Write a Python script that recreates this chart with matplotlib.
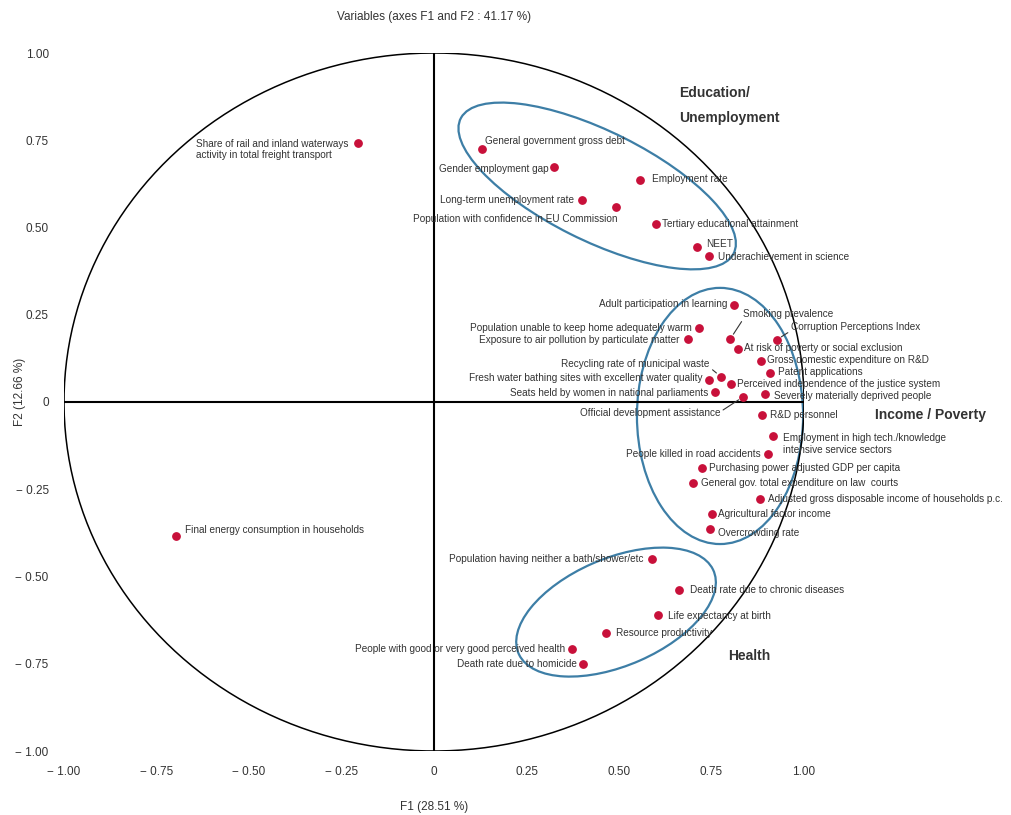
import numpy as np
from matplotlib import pyplot as plt
from matplotlib import font_manager
from matplotlib.patches import Ellipse

# variable names and their coordinates on the first two factors
variables = [
    'Share of rail and inland waterways\nactivity in total freight transport',
    'Final energy consumption in households',
    'General government gross debt',
    'Gender employment gap',
    'Employment rate',
    'Long-term unemployment rate',
    'Population with confidence in EU Commission',
    'Tertiary educational attainment',
    'NEET',
    'Underachievement in science',
    'Adult participation in learning',
    'Population unable to keep home adequately warm',
    'Exposure to air pollution by particulate matter',
    'Smoking prevalence',
    'Corruption Perceptions Index',
    'At risk of poverty or social exclusion',
    'Gross domestic expenditure on R&D',
    'Patent applications',
    'Recycling rate of municipal waste',
    'Fresh water bathing sites with excellent water quality',
    'Perceived independence of the justice system',
    'Seats held by women in national parliaments',
    'Severely materially deprived people',
    'Official development assistance',
    'R&D personnel',
    'Employment in high tech./knowledge\nintensive service sectors',
    'People killed in road accidents',
    'Purchasing power adjusted GDP per capita',
    'General gov. total expenditure on law  courts',
    'Adjusted gross disposable income of households p.c.',
    'Agricultural factor income',
    'Overcrowding rate',
    'Population having neither a bath/shower/etc',
    'Death rate due to chronic diseases',
    'Life expectancy at birth',
    'Resource productivity',
    'People with good or very good perceived health',
    'Death rate due to homicide',
]
f1 = [-0.206, -0.698, 0.131, 0.325, 0.558, 0.399, 0.492, 0.599, 0.712, 0.743,
      0.812, 0.717, 0.686, 0.801, 0.926, 0.821, 0.883, 0.908, 0.775, 0.743,
      0.803, 0.760, 0.894, 0.836, 0.886, 0.916, 0.903, 0.723, 0.700, 0.882,
      0.752, 0.746, 0.588, 0.661, 0.605, 0.465, 0.374, 0.404]
f2 = [0.743, -0.384, 0.725, 0.674, 0.636, 0.579, 0.560, 0.511, 0.445, 0.419,
      0.278, 0.213, 0.180, 0.181, 0.178, 0.151, 0.117, 0.084, 0.073, 0.063,
      0.052, 0.029, 0.023, 0.015, -0.038, -0.097, -0.149, -0.189, -0.233, -0.277,
      -0.322, -0.363, -0.450, -0.539, -0.610, -0.663, -0.709, -0.751]

ticks = [-1.0, -0.75, -0.5, -0.25, 0.0, 0.25, 0.5, 0.75, 1.0]
title = 'Variables (axes F1 and F2 : 41.17 %)'
xlabel = 'F1 (28.51 %)'
ylabel = 'F2 (12.66 %)'

# label placement: offset in pixels from the point, alignment, leader line
place = [
    (-9, -7, 'right', None), (9, 6, 'left', None), (3, 8, 'left', None),
    (-6, -2, 'right', None), (12, 1, 'left', None), (-8, 0, 'right', None),
    (1, -12, 'right', None), (6, 0, 'left', None), (9, 3, 'left', None),
    (9, -1, 'left', None), (-7, 1, 'right', None), (-7, 0, 'right', None),
    (-8, -1, 'right', None), (13, 25, 'left', (0.0, 0.0)),
    (14, 13, 'left', (0.0, 0.1)), (6, 1, 'left', None), (6, 1, 'left', None),
    (8, 1, 'left', None), (-11, 13, 'right', (1.0, 0.1)), (-6, 2, 'right', None),
    (6, 0, 'left', None), (-7, -1, 'right', None), (9, -2, 'left', None),
    (-23, -16, 'right', (1.0, 0.6)), (8, 0, 'left', None), (10, -8, 'left', None),
    (-7, 0, 'right', None), (7, 0, 'left', None), (8, 0, 'left', None),
    (8, 0, 'left', None), (6, 0, 'left', None), (8, -4, 'left', None),
    (-8, 0, 'right', None), (11, 0, 'left', None), (10, -1, 'left', None),
    (10, 0, 'left', None), (-7, 0, 'right', None), (-7, 0, 'right', None),
]

# groups drawn as ellipses: centre, width, height, angle
groups = [
    ((0.441, 0.619), 0.833, 0.311, -28),
    ((0.773, -0.040), 0.449, 0.734, 0),
    ((0.492, -0.602), 0.578, 0.306, 25),
]
group_names = ['Education/\nUnemployment', 'Income / Poverty', 'Health']
group_pos = [(0.662, 0.851), (1.192, -0.037), (0.795, -0.728)]

installed = {f.name for f in font_manager.fontManager.ttflist}
if 'Liberation Sans Narrow' in installed:
    plt.rcParams['font.family'] = ['Liberation Sans Narrow', 'DejaVu Sans']
    small, mid = 8.5, 10
else:
    plt.rcParams['font.family'] = ['Liberation Sans', 'DejaVu Sans']
    small, mid = 7.2, 8.5
txt = '#333333'

fig = plt.figure(figsize=(10.11, 8.15), dpi=100)
ax = fig.add_axes([64 / 1011, 64 / 815, 740 / 1011, 698 / 815])
ax.set_xlim(-1, 1)
ax.set_ylim(-1, 1)
for s in ax.spines.values():
    s.set_visible(False)

def fmt(v):
    if v == 0:
        return '0'
    return ('\u2212 ' if v < 0 else '') + '%.2f' % abs(v)

ax.set_xticks(ticks)
ax.set_xticklabels([fmt(t) for t in ticks])
ax.set_yticks(ticks)
ax.set_yticklabels([fmt(t) for t in ticks])
ax.tick_params(length=0, labelsize=mid, labelcolor=txt)
ax.tick_params(axis='x', pad=11)
ax.tick_params(axis='y', pad=11)

# correlation circle and the two axes
t = np.linspace(0, 2 * np.pi, 400)
ax.plot(np.cos(t), np.sin(t), color='black', lw=1.1)
ax.plot([-1, 1], [0, 0], color='black', lw=1.5)
ax.plot([0, 0], [-1, 1], color='black', lw=1.5)

for (c, w, h, a) in groups:
    ax.add_patch(Ellipse(c, w, h, angle=a, fill=False, edgecolor='#3d7ea6', lw=1.6))

ax.scatter(f1, f2, s=28, color='#c8103a', zorder=3)

for name, x, y, (dx, dy, ha, rel) in zip(variables, f1, f2, place):
    kw = {}
    if rel is not None:
        kw['arrowprops'] = dict(arrowstyle='-', color=txt, lw=0.8,
                                shrinkA=0, shrinkB=4, relpos=rel)
    ax.annotate(name, (x, y), xytext=(dx, dy), textcoords='offset pixels',
                ha=ha, va='center', multialignment='left', fontsize=small,
                color=txt, **kw)

for g, (gx, gy) in zip(group_names, group_pos):
    ax.text(gx, gy, g, ha='left', va='center', fontsize=10, fontweight='bold',
            color=txt, linespacing=2.0, clip_on=False)

fig.text(434 / 1011, 1 - 17 / 815, title, ha='center', va='center', fontsize=mid, color=txt)
fig.text(434 / 1011, 1 - 807 / 815, xlabel, ha='center', va='center', fontsize=mid, color=txt)
fig.text(20 / 1011, 1 - 392 / 815, ylabel, ha='center', va='center', rotation=90,
         fontsize=mid, color=txt)

plt.savefig('out.png', dpi=100)
